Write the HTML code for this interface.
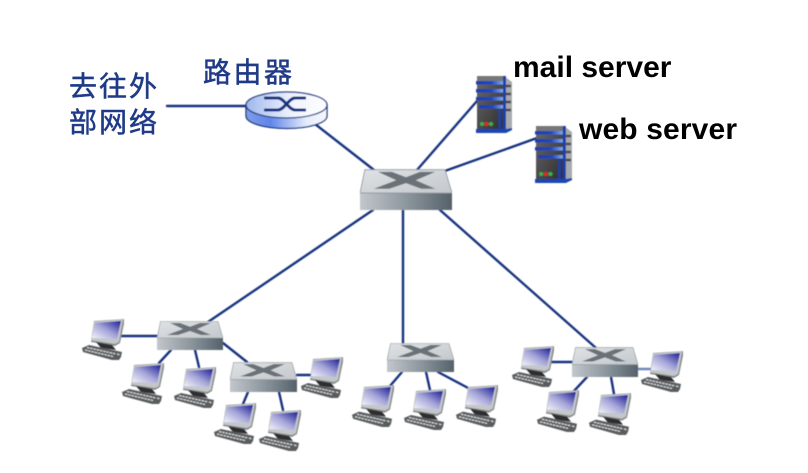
<!DOCTYPE html>
<html>
<head>
<meta charset="utf-8">
<style>
html,body{margin:0;padding:0;background:#fff;width:808px;height:473px;overflow:hidden}
svg{display:block}
.cn{font-family:"Liberation Sans","Noto Sans CJK SC",sans-serif;font-size:28px;fill:#1f3a86;stroke:#1f3a86;stroke-width:.5px}
.en{font-family:"Liberation Sans",sans-serif;font-size:30px;font-weight:bold;fill:#000}
</style>
</head>
<body>
<svg width="808" height="473" viewBox="0 0 808 473" xmlns="http://www.w3.org/2000/svg">
<defs>
<filter id="b" x="-5%" y="-5%" width="110%" height="110%"><feGaussianBlur stdDeviation="0.4"/></filter>
<linearGradient id="sw" x1="0" x2="1" y1="0" y2="0"><stop offset="0" stop-color="#c2c7cc"/><stop offset=".5" stop-color="#8d979e"/><stop offset="1" stop-color="#55616a"/></linearGradient>
<linearGradient id="top" x1="0" x2="1" y1="0" y2="1"><stop offset="0" stop-color="#dfe2e5"/><stop offset="1" stop-color="#c3c8cc"/></linearGradient>
<linearGradient id="scr" x1="0" x2="1" y1="1" y2="0"><stop offset="0" stop-color="#f6f6fc"/><stop offset=".5" stop-color="#a4a4d8"/><stop offset="1" stop-color="#1c1c96"/></linearGradient>
<linearGradient id="rt" x1="0" x2="1" y1="0" y2="0"><stop offset="0" stop-color="#9fb6ee"/><stop offset=".55" stop-color="#eef2fd"/><stop offset="1" stop-color="#ffffff"/></linearGradient>
<linearGradient id="rs" x1="0" x2="1" y1="0" y2="0"><stop offset="0" stop-color="#7f9ce8"/><stop offset=".3" stop-color="#5f86e8"/><stop offset=".75" stop-color="#e6edfb"/><stop offset="1" stop-color="#f6f8fd"/></linearGradient>
<linearGradient id="srv" x1="0" x2="1" y1="0" y2="1"><stop offset="0" stop-color="#6a6a6a"/><stop offset="1" stop-color="#2c2c2c"/></linearGradient>
<linearGradient id="bar" x1="0" x2="1" y1="0" y2="0"><stop offset="0" stop-color="#1a3fb0"/><stop offset=".55" stop-color="#1f47c4"/><stop offset="1" stop-color="#8cb2f5"/></linearGradient>

<symbol id="switch" viewBox="0 0 66 29" preserveAspectRatio="none">
  <polygon points="3.5,0.5 61,0.5 66,17 66,29 0,29 0,17" fill="url(#sw)"/>
  <polygon points="3.5,0.5 61,0.5 66,17 0,17" fill="url(#top)" stroke="#8d9398" stroke-width=".6"/>
  <polygon points="13,2 23,2 33,5.800 43,2 54,2 40,8 54,14 44,14 33,10 21,14 10,14 26,8" fill="#6a7177"/>
</symbol>

<symbol id="pc" viewBox="0 0 42 41" preserveAspectRatio="none">
  <polygon points="12,2 43,0 38,24 33,27 9,23" fill="#85898d"/>
  <polygon points="12,2.500 41,0.600 37,23 33,25 9.500,21.500" fill="#c4c7c9"/>
  <polygon points="13,4 39,2 35,20 10,19" fill="url(#scr)"/>
  <polygon points="14,23 30,26 34,31 19,29" fill="#2f2f2f"/>
  <polygon points="0,29 7,26 40,33 39,38 37,41 30,41 1,33" fill="#5a5d5f"/>
  <path d="M5 28.500 L34 35 M3 31 L31 37.500 M35 35 L38 36" stroke="#e2e3e4" stroke-width="1.100" stroke-dasharray="2.500 .8" fill="none"/>
</symbol>

<symbol id="server" viewBox="0 0 36 57" preserveAspectRatio="none">
  <polygon points="28,0 36,6 36,53 28,56" fill="#a8abad"/>
  <path d="M30 10h5M30 18h5M30 26h5M30 34h5" stroke="#4a4a4a" stroke-width="2.500"/>
  <rect x="1" y="0" width="28" height="54" fill="url(#srv)"/>
  <rect x="1" y="0" width="28" height="5" fill="#777"/>
  <rect x="0" y="5" width="28" height="3.500" fill="url(#bar)"/>
  <rect x="0" y="13" width="28" height="3.500" fill="url(#bar)"/>
  <rect x="0" y="21" width="28" height="3.500" fill="url(#bar)"/>
  <rect x="3" y="29" width="25" height="3.500" fill="url(#bar)"/>
  <rect x="27" y="0" width="3" height="54" fill="#1d3fa8"/>
  <rect x="22.500" y="33" width="2.500" height="20" fill="#1d3fa8"/>
  <circle cx="6" cy="48" r="2" fill="#3fae4a"/>
  <circle cx="10.500" cy="48" r="2" fill="#e02a20"/>
  <circle cx="15" cy="48" r="2" fill="#3fae4a"/>
  <polygon points="0,53 30,53 36,52 36,54 30,57 0,57" fill="#1f45b5"/>
</symbol>
</defs>

<rect width="808" height="473" fill="#fff"/>

<g filter="url(#b)">
<g stroke="#17337f" stroke-width="2.400" fill="none" stroke-linecap="round">
  <path d="M167 106 H247"/>
  <path d="M315 124 L374 170"/>
  <path d="M417 170 L477 101"/>
  <path d="M442 172 L537 138"/>
  <path d="M373 210 L208 322"/>
  <path d="M403 210 V345"/>
  <path d="M440 210 L596 348"/>
  <path d="M120 336 H158"/>
  <path d="M171 350 L159 363"/>
  <path d="M195 350 L199 367"/>
  <path d="M223 343 L247 362"/>
  <path d="M297 375 H311"/>
  <path d="M248 392 L243 404"/>
  <path d="M279 392 L283 410"/>
  <path d="M402 372 L390 386"/>
  <path d="M426 372 L430 390"/>
  <path d="M438 372 L470 389"/>
  <path d="M549 362 H572"/>
  <path d="M587 377 L574 391"/>
  <path d="M611 377 L614 394"/>
  <path d="M638 369 H651" stroke="#6f86bd"/>
</g>

<!-- router -->
<path d="M246 105 V116 A40.500 12.500 0 0 0 327 116 V105 Z" fill="url(#rs)" stroke="#17337f" stroke-width="1.300"/>
<ellipse cx="286.500" cy="105" rx="40.500" ry="13" fill="url(#rt)" stroke="#17337f" stroke-width="1.300"/>
<path d="M264 98 H278 C284 98 289 110 295 110 H306 M264 110 H278 C284 110 289 98 295 98 H306" fill="none" stroke="#17337f" stroke-width="3"/>

<!-- switches -->
<use href="#switch" x="360" y="169" width="92" height="41"/>
<use href="#switch" x="157" y="321" width="66" height="29"/>
<use href="#switch" x="230" y="362" width="67" height="30"/>
<use href="#switch" x="387" y="343" width="67" height="29"/>
<use href="#switch" x="572" y="347" width="66" height="30"/>

<!-- servers -->
<use href="#server" x="476" y="76" width="36" height="57"/>
<use href="#server" x="535" y="126" width="37" height="57"/>

<!-- computers -->
<use href="#pc" x="82" y="319" width="42" height="41"/>
<use href="#pc" x="122" y="363" width="42" height="41"/>
<use href="#pc" x="174" y="367" width="42" height="41"/>
<use href="#pc" x="214" y="403" width="42" height="41"/>
<use href="#pc" x="259" y="410" width="42" height="41"/>
<use href="#pc" x="301" y="357" width="42" height="41"/>
<use href="#pc" x="352" y="385" width="42" height="42"/>
<use href="#pc" x="404" y="389" width="42" height="41"/>
<use href="#pc" x="456" y="385" width="42" height="42"/>
<use href="#pc" x="512" y="346" width="42" height="41"/>
<use href="#pc" x="537" y="390" width="42" height="42"/>
<use href="#pc" x="589" y="393" width="42" height="42"/>
<use href="#pc" x="641" y="351" width="42" height="41"/>
</g>

<!-- labels -->
<text class="cn" x="69" y="96" textLength="88">去往外</text>
<text class="cn" x="69" y="132" textLength="88">部网络</text>
<text class="cn" x="203" y="82" textLength="89">路由器</text>
<text class="en" x="513" y="77">mail server</text>
<text class="en" x="579" y="139" textLength="158">web server</text>
</svg>
</body>
</html>
